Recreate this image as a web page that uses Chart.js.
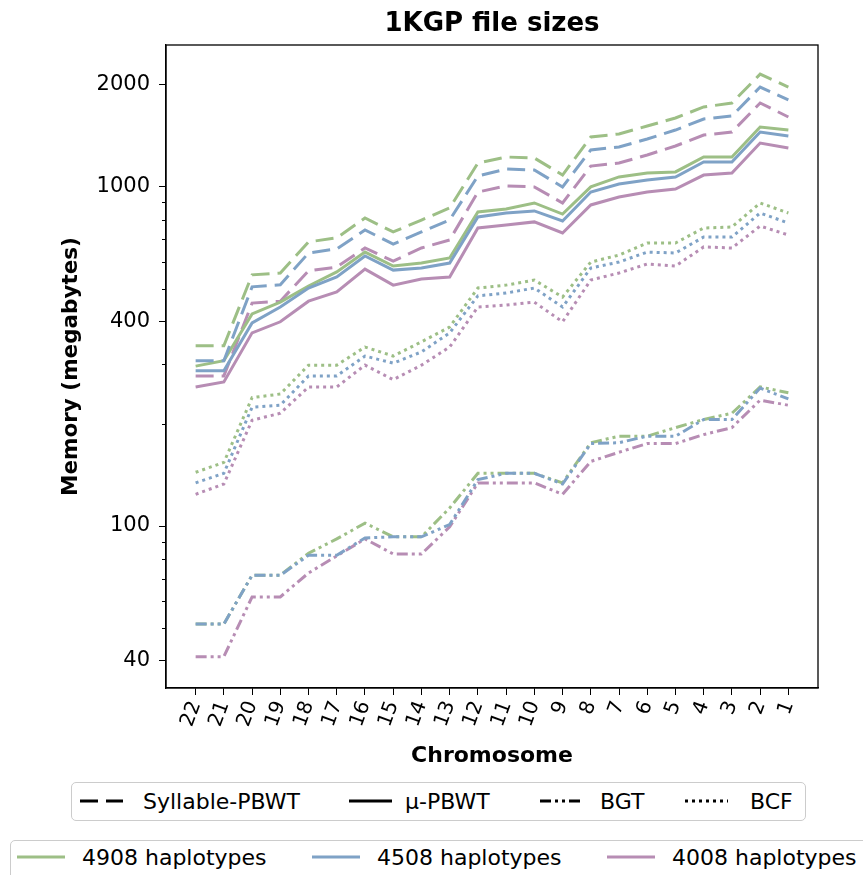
<!DOCTYPE html>
<html>
<head>
<meta charset="utf-8">
<script src="https://cdn.jsdelivr.net/npm/chart.js@4/dist/chart.umd.min.js"></script>
<style>
  body { margin: 0; background: #fff; font-family: 'DejaVu Sans', sans-serif; }
  #wrap { position: relative; width: 863px; height: 875px; overflow: hidden; }
  #chartBox { position: absolute; left: 0; top: 0; width: 863px; height: 775px; }
  .legend { position: absolute; border: 1.5px solid #cccccc; border-radius: 5px; background: #fff; box-sizing: border-box; }
  .label { position: absolute; font-size: 22px; white-space: nowrap; transform: translateY(-50%); color: #000; }
  svg.sample { position: absolute; overflow: visible; }
</style>
</head>
<body>
<div id="wrap">
  <div id="chartBox"><canvas id="sizeChart" width="863" height="775"></canvas></div>
  <div class="legend" style="left:71px;top:782px;width:735px;height:39px;"></div>
  <div class="legend" style="left:10px;top:840px;width:900px;height:60px;"></div>
</div>

<script>
// ============================================================
// DATA (memory in megabytes)
// ============================================================

const chromosomes = ["22","21","20","19","18","17","16","15","14","13","12","11","10","9","8","7","6","5","4","3","2","1"];

const yMajorTicks = [40, 100, 400, 1000, 2000];
const yMinorTicks = [50, 60, 70, 80, 90, 200, 300, 500, 600, 700, 800, 900];

const methodNames = ["Syllable-PBWT", "μ-PBWT", "BGT", "BCF"];
const haplotypeNames = ["4908 haplotypes", "4508 haplotypes", "4008 haplotypes"];

// Syllable-PBWT
const sylGreen  = [340, 340, 550, 557, 688, 707, 809, 736, 798, 866, 1175, 1224, 1216, 1083, 1402, 1431, 1511, 1595, 1719, 1766, 2149, 1968];
const sylBlue   = [307, 307, 507, 514, 638, 656, 746, 678, 736, 798, 1076, 1128, 1121, 999, 1284, 1310, 1383, 1470, 1584, 1617, 1968, 1803];
const sylPurple = [277, 277, 454, 460, 565, 580, 660, 604, 660, 697, 965, 1006, 999, 896, 1151, 1175, 1241, 1319, 1421, 1450, 1766, 1606];

// mu-PBWT
const muGreen  = [296, 307, 422, 457, 510, 561, 642, 584, 596, 617, 843, 860, 896, 831, 999, 1069, 1098, 1106, 1224, 1224, 1500, 1470];
const muBlue   = [287, 287, 397, 442, 503, 542, 625, 568, 576, 596, 815, 837, 849, 793, 965, 1019, 1047, 1069, 1183, 1183, 1450, 1411];
const muPurple = [257, 266, 371, 400, 460, 490, 572, 513, 535, 542, 756, 772, 788, 731, 884, 933, 965, 985, 1083, 1098, 1346, 1301];

// BGT
const bgtGreen  = [51.4, 51.4, 71.6, 71.6, 83.1, 91.6, 102, 92.9, 92.9, 113, 143, 143, 143, 134, 176, 184, 184, 195, 206, 215, 257, 247];
const bgtBlue   = [51.4, 51.4, 71.6, 71.6, 82, 82, 92.2, 92.9, 92.9, 101, 137, 143, 143, 133, 175, 176, 184, 184, 206, 206, 255, 237];
const bgtPurple = [41.2, 41.2, 61.8, 61.8, 72.7, 81.6, 91.6, 82.7, 82.7, 99.4, 134, 134, 134, 124, 155, 165, 175, 175, 186, 195, 235, 227];

// BCF
const bcfGreen  = [144, 154, 239, 245, 298, 298, 337, 317, 349, 386, 503, 513, 531, 473, 600, 629, 683, 683, 756, 761, 896, 837];
const bcfBlue   = [134, 143, 224, 227, 277, 277, 317, 302, 326, 371, 477, 486, 503, 442, 576, 600, 642, 638, 711, 711, 837, 782];
const bcfPurple = [124, 133, 205, 215, 257, 257, 298, 270, 298, 337, 442, 448, 457, 400, 531, 557, 592, 584, 665, 660, 766, 721];


// ============================================================
// STYLES
// ============================================================

const FONT = "'DejaVu Sans', sans-serif";
const colors = ["#9dbf86", "#7fa2c6", "#b78db4"];   // green, blue, purple
const drawOrder = [1, 0, 2];                         // blue on top, purple at the bottom
const dashes = [[18, 8], [], [11, 4, 3, 4, 3, 4], [3, 4]];

const seriesByMethod = [
  [sylGreen, sylBlue, sylPurple],
  [muGreen, muBlue, muPurple],
  [bgtGreen, bgtBlue, bgtPurple],
  [bcfGreen, bcfBlue, bcfPurple]
];

const datasets = [];
seriesByMethod.forEach((group, m) => {
  group.forEach((values, h) => {
    datasets.push({
      label: methodNames[m] + " " + haplotypeNames[h],
      data: values.map((v, i) => ({ x: i, y: v })),
      borderColor: colors[h],
      borderWidth: 3,
      borderDash: dashes[m],
      pointRadius: 0,
      fill: false,
      tension: 0,
      order: drawOrder[h]
    });
  });
});


// ============================================================
// PLUGINS: title over the plot, axes frame, minor log ticks
// ============================================================

const framePlugin = {
  id: "frame",
  afterDatasetsDraw(chart) {
    const { ctx, chartArea: a } = chart;
    ctx.save();
    ctx.strokeStyle = "#000";
    ctx.lineWidth = 1.3;
    ctx.strokeRect(a.left, a.top, a.right - a.left, a.bottom - a.top);

    const y = chart.scales.y;
    ctx.lineWidth = 1;
    ctx.beginPath();
    yMinorTicks.forEach(v => {
      const py = Math.round(y.getPixelForValue(v)) + 0.5;
      ctx.moveTo(a.left - 4, py);
      ctx.lineTo(a.left, py);
    });
    ctx.stroke();

    // title centred on the plot area, like matplotlib
    ctx.fillStyle = "#000";
    ctx.font = "bold 26px " + FONT;
    ctx.textAlign = "center";
    ctx.textBaseline = "middle";
    ctx.fillText("1KGP file sizes", (a.left + a.right) / 2, 24);
    ctx.restore();
  }
};


// ============================================================
// CHART
// ============================================================

new Chart(document.getElementById("sizeChart"), {
  type: "line",
  data: { datasets },
  options: {
    responsive: false,
    animation: false,
    layout: { padding: { left: 0, right: 45, top: 45, bottom: 0 } },
    plugins: {
      legend: { display: false },
      tooltip: { enabled: false },
      title: { display: false }
    },
    scales: {
      x: {
        type: "linear",
        min: -1.05,
        max: 22.05,
        afterBuildTicks: s => { s.ticks = chromosomes.map((c, i) => ({ value: i })); },
        afterFit: s => { s.height = 87; },
        ticks: {
          autoSkip: false,
          minRotation: 70,
          maxRotation: 70,
          padding: 3,
          color: "#000",
          font: { family: FONT, size: 20 },
          callback: v => chromosomes[v]
        },
        grid: { display: true, drawOnChartArea: false, tickLength: 7, tickColor: "#000" },
        border: { color: "#000", width: 1.3 },
        title: {
          display: true,
          text: "Chromosome",
          color: "#000",
          font: { family: FONT, size: 22, weight: "bold" },
          padding: { top: 0, bottom: 6 }
        }
      },
      y: {
        type: "logarithmic",
        min: 33.3,
        max: 2618,
        afterBuildTicks: s => { s.ticks = yMajorTicks.map(v => ({ value: v })); },
        afterFit: s => { s.width = 166; },
        ticks: {
          padding: 9,
          color: "#000",
          font: { family: FONT, size: 21 },
          callback: v => String(v)
        },
        grid: { display: true, drawOnChartArea: false, tickLength: 7, tickColor: "#000" },
        border: { color: "#000", width: 1.3 },
        title: {
          display: true,
          text: "Memory (megabytes)",
          color: "#000",
          font: { family: FONT, size: 21.5, weight: "bold" },
          padding: { top: 59, bottom: 0 }
        }
      }
    }
  },
  plugins: [framePlugin]
});


// ============================================================
// LEGENDS (two boxes under the plot)
// ============================================================

const wrap = document.getElementById("wrap");

function addSample(x, cy, w, color, dash) {
  const svg = document.createElementNS("http://www.w3.org/2000/svg", "svg");
  svg.setAttribute("class", "sample");
  svg.setAttribute("width", w);
  svg.setAttribute("height", 6);
  svg.style.left = x + "px";
  svg.style.top = (cy - 3) + "px";
  const line = document.createElementNS("http://www.w3.org/2000/svg", "line");
  line.setAttribute("x1", 0);
  line.setAttribute("x2", w);
  line.setAttribute("y1", 3);
  line.setAttribute("y2", 3);
  line.setAttribute("stroke", color);
  line.setAttribute("stroke-width", 3);
  if (dash.length) line.setAttribute("stroke-dasharray", dash.join(" "));
  svg.appendChild(line);
  wrap.appendChild(svg);
}

function addLabel(x, cy, text) {
  const d = document.createElement("div");
  d.className = "label";
  d.style.left = x + "px";
  d.style.top = cy + "px";
  d.textContent = text;
  wrap.appendChild(d);
}

const methodSampleX = [80, 349, 540, 685];
const methodTextX = [143, 405, 600, 750];
methodNames.forEach((name, i) => {
  addSample(methodSampleX[i], 801, 43, "#000", dashes[i]);
  addLabel(methodTextX[i], 801, name);
});

const hapSampleX = [17, 312, 607];
const hapTextX = [82, 377, 672];
haplotypeNames.forEach((name, i) => {
  addSample(hapSampleX[i], 857, 48, colors[i], []);
  addLabel(hapTextX[i], 857, name);
});
</script>
</body>
</html>
